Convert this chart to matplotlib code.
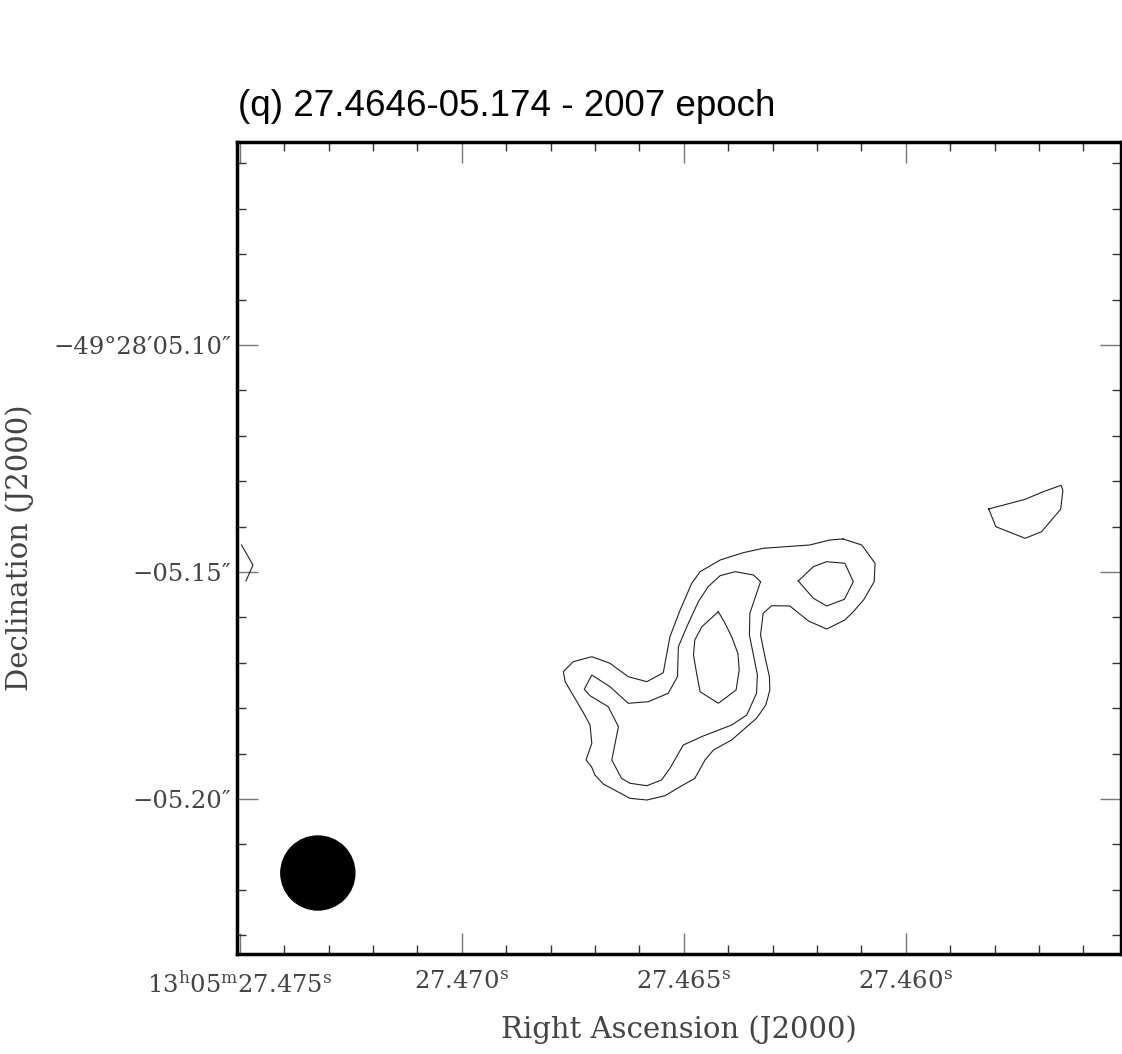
import matplotlib
matplotlib.use('Agg')
import matplotlib.pyplot as plt
from matplotlib.patches import Ellipse
from matplotlib.ticker import FixedLocator, MultipleLocator

# contour vertices: RA seconds (13h05m..s) and Dec arcsec (-49d28m..")
outer_ra = [27.46141, 27.46099, 27.46069, 27.46071, 27.46095, 27.46118, 27.46137,
            27.46178, 27.46219, 27.46261, 27.46302, 27.46321, 27.46327, 27.46317,
            27.46307, 27.46306, 27.46315, 27.46336, 27.46392, 27.46433, 27.46452,
            27.46475, 27.46508, 27.46542, 27.46583, 27.46621, 27.46681, 27.46700,
            27.46707, 27.46720, 27.46707, 27.46711, 27.46726, 27.46745, 27.46767,
            27.46771, 27.46749, 27.46707, 27.46666, 27.46625, 27.46583, 27.46546,
            27.46531, 27.46508, 27.46482, 27.46463, 27.46418, 27.46366, 27.46321,
            27.46216, 27.46171]
outer_dec = [-5.14273, -5.14405, -5.14808, -5.15214, -5.15617, -5.15874, -5.16057,
             -5.16256, -5.16079, -5.15749, -5.15742, -5.15910, -5.16388, -5.16866,
             -5.17306, -5.17599, -5.17930, -5.18222, -5.18700, -5.18921, -5.19141,
             -5.19544, -5.19729, -5.19927, -5.20022, -5.19985, -5.19670, -5.19471,
             -5.19302, -5.19141, -5.18773, -5.18370, -5.18099, -5.17782, -5.17416,
             -5.17196, -5.16976, -5.16866, -5.17011, -5.17306, -5.17416, -5.17218,
             -5.16425, -5.15837, -5.15249, -5.14993, -5.14736, -5.14575, -5.14478,
             -5.14405, -5.14295]

middle_ra = [27.46327, 27.46343, 27.46384, 27.46418, 27.46445, 27.46467, 27.46493,
             27.46512, 27.46514, 27.46535, 27.46580, 27.46625, 27.46666, 27.46707,
             27.46724, 27.46711, 27.46670, 27.46647, 27.46662, 27.46640, 27.46621,
             27.46583, 27.46550, 27.46531, 27.46501, 27.46456, 27.46392, 27.46358,
             27.46336, 27.46334, 27.46343, 27.46352, 27.46351]
middle_dec = [-5.15214, -5.15066, -5.14993, -5.15081, -5.15324, -5.15654, -5.16205,
              -5.16645, -5.17306, -5.17672, -5.17857, -5.17892, -5.17526, -5.17269,
              -5.17584, -5.17725, -5.17967, -5.18407, -5.19141, -5.19544, -5.19654,
              -5.19707, -5.19581, -5.19324, -5.18811, -5.18612, -5.18370, -5.18150,
              -5.17672, -5.17269, -5.16828, -5.16388, -5.15910]

peak1_ra = [27.46422, 27.46459, 27.46475, 27.46478, 27.46471, 27.46463,
            27.46422, 27.46382, 27.46375, 27.46378, 27.46392, 27.46407]
peak1_dec = [-5.15874, -5.16205, -5.16498, -5.16828, -5.17231, -5.17637,
             -5.17892, -5.17599, -5.17159, -5.16791, -5.16425, -5.16130]

peak2_ra = [27.46242, 27.46208, 27.46178, 27.46137, 27.46118, 27.46138, 27.46178, 27.46208]
peak2_dec = [-5.15198, -5.14883, -5.14773, -5.14808, -5.15214, -5.15601, -5.15749, -5.15579]

blob_ra = [27.45813, 27.45797, 27.45731, 27.45694, 27.45651, 27.45646, 27.45650, 27.45690, 27.45731]
blob_dec = [-5.13612, -5.14002, -5.14258, -5.14112, -5.13619, -5.13209, -5.13090, -5.13231, -5.13399]

# bit of a contour sticking in at the left edge
edge_ra = [27.47496, 27.47470, 27.47486]
edge_dec = [-5.14405, -5.14846, -5.15198]

ra_ticks = [27.475, 27.470, 27.465, 27.460]
ra_labels = [r'$\mathrm{13^{h}05^{m}27.475^{s}}$', r'$\mathrm{27.470^{s}}$',
             r'$\mathrm{27.465^{s}}$', r'$\mathrm{27.460^{s}}$']
dec_ticks = [-5.10, -5.15, -5.20]
dec_labels = ['\u221249\u00b028\u203205.10\u2033', '\u221205.15\u2033', '\u221205.20\u2033']

# restoring beam
beam_ra, beam_dec = 27.47324, -5.2163
beam_w, beam_h = 0.001667, 0.0163

plt.rcParams['mathtext.fontset'] = 'dejavuserif'
label_color = '#444444'

fig = plt.figure(figsize=(11.22, 10.54), dpi=100)
ax = fig.add_axes([237 / 1122, 100 / 1054, 884 / 1122, 812 / 1054])

for ra, dec in [(outer_ra, outer_dec), (middle_ra, middle_dec), (peak1_ra, peak1_dec),
                (peak2_ra, peak2_dec), (blob_ra, blob_dec)]:
    ax.plot(ra + ra[:1], dec + dec[:1], color='#222222', lw=0.8)
ax.plot(edge_ra, edge_dec, color='#222222', lw=0.8)

ax.add_patch(Ellipse((beam_ra, beam_dec), beam_w, beam_h, color='black'))

ax.set_xlim(27.475061, 27.455151)
ax.set_ylim(-5.23414, -5.05529)

ax.xaxis.set_major_locator(FixedLocator(ra_ticks))
ax.xaxis.set_minor_locator(MultipleLocator(0.001))
ax.set_xticklabels(ra_labels)
ax.yaxis.set_major_locator(FixedLocator(dec_ticks))
ax.yaxis.set_minor_locator(MultipleLocator(0.01))
ax.set_yticklabels(dec_labels)

ax.tick_params(which='both', direction='in', top=True, right=True)
ax.tick_params(which='major', length=15, width=1.0, color='#777777',
               labelsize=17.5, labelcolor=label_color)
ax.tick_params(which='minor', length=6.5, width=1.0, color='#333333')
ax.tick_params(axis='x', which='major', pad=12)
ax.tick_params(axis='y', which='major', pad=4)
for lab in ax.get_xticklabels() + ax.get_yticklabels():
    lab.set_family('DejaVu Serif')

for sp in ax.spines.values():
    sp.set_linewidth(2.5)
    sp.set_color('black')

ax.set_xlabel('Right Ascension (J2000)', family='DejaVu Serif', fontsize=21,
              color=label_color, labelpad=13)
ax.set_ylabel('Declination (J2000)', family='DejaVu Serif', fontsize=21,
              color=label_color, labelpad=14)

fig.text(238 / 1122, 1 - 116 / 1054, '(q) 27.4646-05.174 - 2007 epoch',
         family=['Liberation Sans Narrow', 'Liberation Sans'], fontsize=26.5,
         color='black', va='baseline', ha='left')

fig.savefig('out.png', dpi=100)
